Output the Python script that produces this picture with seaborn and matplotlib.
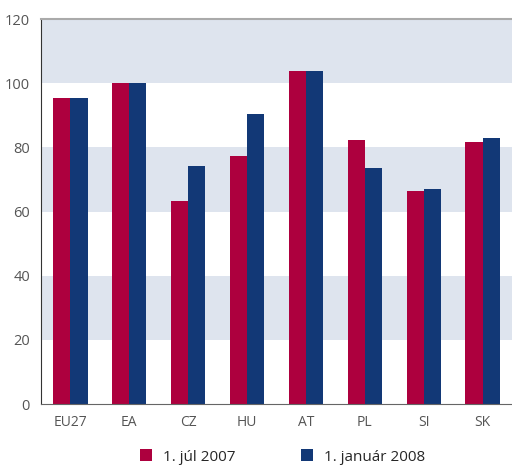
import matplotlib
matplotlib.use("Agg")
import matplotlib.pyplot as plt
import numpy as np
import pandas as pd
import seaborn as sns
from matplotlib.patches import Patch

categories = ["EU27", "EA", "CZ", "HU", "AT", "PL", "SI", "SK"]
jul_2007 = [95.4, 100.0, 63.3, 77.3, 103.8, 82.3, 66.4, 81.7]
jan_2008 = [95.4, 100.0, 74.2, 90.4, 103.8, 73.6, 67.0, 82.9]
series_names = ["1. júl 2007", "1. január 2008"]

red = "#ad003e"
blue = "#123876"
band = "#dee4ee"

df = pd.DataFrame({
    "Krajina": categories * 2,
    "Hodnota": jul_2007 + jan_2008,
    "Obdobie": [series_names[0]] * len(categories) + [series_names[1]] * len(categories),
})

sns.set_style("white")
plt.rcParams["font.family"] = ["Open Sans", "DejaVu Sans"]

fig = plt.figure(figsize=(5.12, 4.68), dpi=100)
ax = fig.add_axes([41 / 512, 64 / 468, 1 - 41 / 512, 385 / 468])

# shaded bands
for lo in (20, 60, 100):
    ax.axhspan(lo, lo + 20, color=band, lw=0, zorder=0)

sns.barplot(data=df, x="Krajina", y="Hodnota", hue="Obdobie",
            palette=[red, blue], width=0.58, saturation=1,
            edgecolor="none", linewidth=0, legend=False, ax=ax, zorder=2)

ax.set_ylim(0, 120)
ax.set_xlim(-0.5, len(categories) - 0.5)
ax.set_yticks(np.arange(0, 121, 20))
ax.set_xlabel("")
ax.set_ylabel("")

ax.set_xticks(np.arange(-0.5, len(categories) - 0.4, 1), minor=True)
ax.tick_params(axis="x", which="major", length=0, pad=8, labelsize=10, labelcolor="#555555")
ax.tick_params(axis="x", which="minor", length=5, width=1, color="#555555", direction="out")
ax.tick_params(axis="y", length=5, width=1, color="#444444", direction="out",
               labelsize=10.5, labelcolor="#555555", pad=3)

ax.spines["right"].set_visible(False)
ax.spines["left"].set_color("#333333")
ax.spines["bottom"].set_color("#666666")
ax.spines["top"].set_color("#aaaaaa")
ax.spines["top"].set_linewidth(1.5)

handles = [Patch(facecolor=red, edgecolor="none"), Patch(facecolor=blue, edgecolor="none")]
fig.legend(handles, series_names, loc="lower center", ncol=2, frameon=False,
           bbox_to_anchor=(0.552, -0.022), fontsize=11, handlelength=0.8,
           handleheight=0.8, columnspacing=4.3, handletextpad=0.72)

fig.savefig("out.png", dpi=100)
